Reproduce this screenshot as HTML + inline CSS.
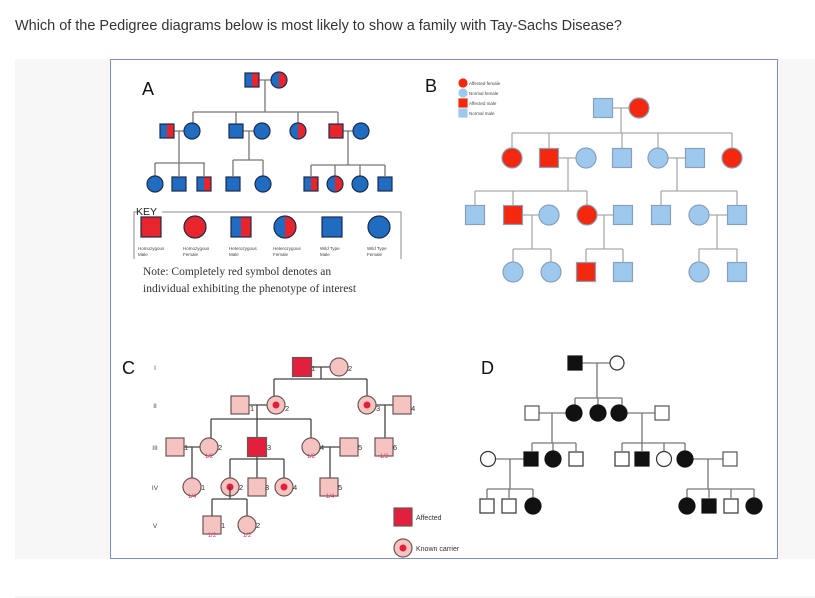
<!DOCTYPE html>
<html><head><meta charset="utf-8"><style>
html,body{margin:0;padding:0;background:#fff;width:815px;height:598px;overflow:hidden}
svg{display:block;font-family:"Liberation Sans",sans-serif}
</style></head><body>
<svg id="s" width="815" height="598" viewBox="0 0 815 598" xmlns="http://www.w3.org/2000/svg">
<text x="15" y="30" font-size="14.5" fill="#333" textLength="607">Which of the Pedigree diagrams below is most likely to show a family with Tay-Sachs Disease?</text>
<rect x="15" y="59" width="800" height="500" fill="#f7f7f7"/>
<rect x="110.5" y="59.5" width="667" height="499" fill="#fff" stroke="#7d90bd" stroke-width="1"/>
<line x1="15" y1="597" x2="815" y2="597" stroke="#eee"/>
<g id="g"></g>
</svg>
<script>
const NS='http://www.w3.org/2000/svg';
const root=document.getElementById('g');
function el(t,a,p){const e=document.createElementNS(NS,t);for(const k in a)e.setAttribute(k,a[k]);(p||root).appendChild(e);return e;}
function L(x1,y1,x2,y2,c,w){const e=el('line',{x1,y1,x2,y2,stroke:c||'#555','stroke-width':w||1.3});

}
function T(x,y,s,size,col,extra){const e=el('text',Object.assign({x,y,'font-size':size,fill:col||'#222'},extra||{}));e.textContent=s;

return e;}
function S(kind,x,y,r,fill,stroke,half,name){
  const g=el('g',{});
  
  
  if(kind==='sq'){
    el('rect',{x:x-r,y:y-r,width:2*r,height:2*r,fill:fill,stroke:'none'},g);
    if(half)el('rect',{x:x,y:y-r,width:r,height:2*r,fill:half},g);
    el('rect',{x:x-r,y:y-r,width:2*r,height:2*r,fill:'none',stroke:stroke,'stroke-width':1.2},g);
  }else{
    el('circle',{cx:x,cy:y,r:r,fill:fill},g);
    if(half)el('path',{d:`M${x},${y-r} A${r},${r} 0 0 1 ${x},${y+r} Z`,fill:half},g);
    el('circle',{cx:x,cy:y,r:r,fill:'none',stroke:stroke,'stroke-width':1.2},g);
  }
  return g;
}
// ===== Panel A =====
const AB='#1f6cc0',AR='#e8252c',AS='#1b2b4d',AL='#777';
T(142,95,'A',18,'#111');
L(252,80,279,80,AL);L(265,80,265,112,AL);L(193,112,338,112,AL);
[193,236,298,338].forEach(x=>L(x,112,x,124,AL));
S('sq',252,80,7,AB,AS,AR);S('ci',279,80,8,AB,AS,AR);
L(167,131,192,131,AL);L(236,131,262,131,AL);L(336,131,361,131,AL);
L(179,131,179,163,AL);L(155,163,205,163,AL);[155,179,204].forEach(x=>L(x,163,x,176,AL));
L(249,131,249,160,AL);L(233,160,263,160,AL);[233,263].forEach(x=>L(x,160,x,176,AL));
L(348,131,348,165,AL);L(311,165,385,165,AL);[311,335,360,385].forEach(x=>L(x,165,x,176,AL));
S('sq',167,131,7,AB,AS,AR);S('ci',192,131,8,AB,AS);S('sq',236,131,7,AB,AS);S('ci',262,131,8,AB,AS);
S('ci',298,131,8,AB,AS,AR);S('sq',336,131,7,AR,AS);S('ci',361,131,8,AB,AS);
S('ci',155,184,8,AB,AS);S('sq',179,184,7,AB,AS);S('sq',204,184,7,AB,AS,AR);
S('sq',233,184,7,AB,AS);S('ci',263,184,8,AB,AS);
S('sq',311,184,7,AB,AS,AR);S('ci',335,184,8,AB,AS,AR);S('ci',360,184,8,AB,AS);S('sq',385,184,7,AB,AS);
el('path',{d:'M134,259 L134,212 L138,212 M162,212 L401,212 L401,259',fill:'none',stroke:'#888','stroke-width':1});
T(136,215,'KEY',10.5,'#222');
S('sq',151,227,10,AR,AS);S('ci',195,227,11,AR,AS);S('sq',241,227,10,AB,AS,AR);S('ci',285,227,11,AB,AS,AR);S('sq',332,227,10,AB,AS);S('ci',379,227,11,AB,AS);
[['Homozygous','Male',138],['Homozygous','Female',183],['Heterozygous','Male',229],['Heterozygous','Female',273],['Wild Type','Male',320],['Wild Type','Female',367]].forEach(a=>{T(a[2],250,a[0],4.5,'#444');T(a[2],256,a[1],4.5,'#444');});
T(143,275,'Note: Completely red symbol denotes an',11.5,'#333',{'font-family':'Liberation Serif, serif'});
T(143,292,'individual exhibiting the phenotype of interest',11.5,'#333',{'font-family':'Liberation Serif, serif'});
// ===== Panel B =====
const BB='#9ec9ef',BR='#f2290f',BS='#8aa0b8',BL='#aaa';
T(425,92,'B',18,'#111');
[['ci',BR,'Affected female'],['ci',BB,'Normal female'],['sq',BR,'Affected male'],['sq',BB,'Normal male']].forEach((a,i)=>{S(a[0],463,83+i*10,4,a[1],a[1]);T(469,85+i*10,a[2],4.5,'#444');});
L(603,108,639,108,BL);L(621,108,621,133,BL);L(512,133,732,133,BL);
[512,549,622,658,732].forEach(x=>L(x,133,x,148,BL));
S('sq',603,108,9.5,BB,BS);S('ci',639,108,10,BR,BS);
L(549,158,586,158,BL);L(658,158,695,158,BL);
L(568,158,568,191,BL);L(475,191,587,191,BL);[475,513,587].forEach(x=>L(x,191,x,205,BL));
L(677,158,677,191,BL);L(661,191,737,191,BL);[661,737].forEach(x=>L(x,191,x,205,BL));
S('ci',512,158,10,BR,BS);S('sq',549,158,9.5,BR,BS);S('ci',586,158,10,BB,BS);S('sq',622,158,9.5,BB,BS);S('ci',658,158,10,BB,BS);S('sq',695,158,9.5,BB,BS);S('ci',732,158,10,BR,BS);
L(513,215,549,215,BL);L(587,215,623,215,BL);L(699,215,737,215,BL);
L(532,215,532,249,BL);L(513,249,551,249,BL);[513,551].forEach(x=>L(x,249,x,262,BL));
L(604,215,604,249,BL);L(586,249,623,249,BL);[586,623].forEach(x=>L(x,249,x,262,BL));
L(717,215,717,249,BL);L(699,249,737,249,BL);[699,737].forEach(x=>L(x,249,x,262,BL));
S('sq',475,215,9.5,BB,BS);S('sq',513,215,9.5,BR,BS);S('ci',549,215,10,BB,BS);S('ci',587,215,10,BR,BS);S('sq',623,215,9.5,BB,BS);S('sq',661,215,9.5,BB,BS);S('ci',699,215,10,BB,BS);S('sq',737,215,9.5,BB,BS);
S('ci',513,272,10,BB,BS);S('ci',551,272,10,BB,BS);S('sq',586,272,9.5,BR,BS);S('sq',623,272,9.5,BB,BS);S('ci',699,272,10,BB,BS);S('sq',737,272,9.5,BB,BS);
// ===== Panel C =====
const CP='#f6c4c0',CR='#e2203d',CS='#6b5656',CL='#444',CT='#d6406a';
T(122,374,'C',18,'#111');
[['I',367],['II',405],['III',447],['IV',487],['V',525]].forEach(a=>T(155,a[1]+3,a[0],6.5,'#444',{'text-anchor':'middle'}));
function carrier(x,y){const g=S('ci',x,y,9,CP,CS,null,'known-carrier-symbol');el('circle',{cx:x,cy:y,r:3.5,fill:CR},g);}
L(302,367,339,367,CL);L(321,367,321,379,CL);L(274,379,367,379,CL);L(274,379,274,396,CL);L(367,379,367,396,CL);
S('sq',302,367,9.5,CR,CS);S('ci',339,367,9,CP,CS);
L(240,405,276,405,CL);L(367,405,402,405,CL);
L(257,405,257,419,CL);L(211,419,311,419,CL);[211,257,311].forEach(x=>L(x,419,x,438,CL));
L(385,405,385,438,CL);
S('sq',240,405,9,CP,CS);carrier(276,405);carrier(367,405);S('sq',402,405,9,CP,CS);
L(175,447,209,447,CL);L(311,447,349,447,CL);
L(192,447,192,478,CL);L(330,447,330,478,CL);
L(257,447,257,459,CL);L(230,459,284,459,CL);[230,257,284].forEach(x=>L(x,459,x,478,CL));
S('sq',175,447,9,CP,CS);S('ci',209,447,9,CP,CS);S('sq',257,447,9.5,CR,CS);S('ci',311,447,9,CP,CS);S('sq',349,447,9,CP,CS);S('sq',384,447,9,CP,CS);
S('ci',192,487,9,CP,CS);carrier(230,487);S('sq',257,487,9,CP,CS);carrier(284,487);S('sq',329,487,9,CP,CS);
L(230,487,230,499,CL);L(212,499,247,499,CL);L(212,499,212,516,CL);L(247,499,247,516,CL);
S('sq',212,525,9,CP,CS);S('ci',247,525,9,CP,CS);
[[311,371,1],[348,371,2],[250,411,1],[285,411,2],[376,411,3],[411,411,4],[184,450,1],[218,450,2],[267,450,3],[320,450,4],[358,450,5],[393,450,6],[201,490,1],[239,490,2],[265,490,3],[293,490,4],[338,490,5],[221,528,1],[256,528,2]].forEach(a=>T(a[0],a[1],String(a[2]),7.5,'#333'));
[[209,458,'1/2'],[311,458,'1/2'],[384,458,'1/2'],[192,498,'1/4'],[330,498,'1/4'],[212,537,'1/2'],[247,537,'1/2']].forEach(a=>T(a[0],a[1],a[2],6,CT,{'text-anchor':'middle'}));
S('sq',403,517,9,CR,CS);T(416,520,'Affected',7,'#333');
carrier(403,548);T(416,551,'Known carrier',7,'#333');
// ===== Panel D =====
const DK='#111',DL='#777';
T(481,374,'D',18,'#111');
L(575,363,617,363,DL);L(597,363,597,398,DL);L(575,398,622,398,DL);[575,598,622].forEach(x=>L(x,398,x,405,DL));
S('sq',575,363,7,DK,DK);S('ci',617,363,7,'#fff','#333');
L(532,413,574,413,DL);L(619,413,662,413,DL);
L(552,413,552,443,DL);L(532,443,576,443,DL);[532,553,576].forEach(x=>L(x,443,x,451,DL));
L(642,413,642,443,DL);L(622,443,685,443,DL);[622,642,664,685].forEach(x=>L(x,443,x,451,DL));
S('sq',532,413,7,'#fff','#555');S('ci',574,413,8,DK,DK);S('ci',598,413,8,DK,DK);S('ci',619,413,8,DK,DK);S('sq',662,413,7,'#fff','#555');
L(488,459,531,459,DL);L(685,459,730,459,DL);
L(510,459,510,489,DL);L(487,489,533,489,DL);[487,509,533].forEach(x=>L(x,489,x,498,DL));
L(708,459,708,489,DL);L(687,489,754,489,DL);[687,709,731,754].forEach(x=>L(x,489,x,498,DL));
S('ci',488,459,7.5,'#fff','#333');S('sq',531,459,7,DK,DK);S('ci',553,459,8,DK,DK);S('sq',576,459,7,'#fff','#333');
S('sq',622,459,7,'#fff','#333');S('sq',642,459,7,DK,DK);S('ci',664,459,7.5,'#fff','#333');S('ci',685,459,8,DK,DK);S('sq',730,459,7,'#fff','#555');
S('sq',487,506,7,'#fff','#333');S('sq',509,506,7,'#fff','#333');S('ci',533,506,8,DK,DK);
S('ci',687,506,8,DK,DK);S('sq',709,506,7,DK,DK);S('sq',731,506,7,'#fff','#333');S('ci',754,506,8,DK,DK);
</script>
</body></html>
